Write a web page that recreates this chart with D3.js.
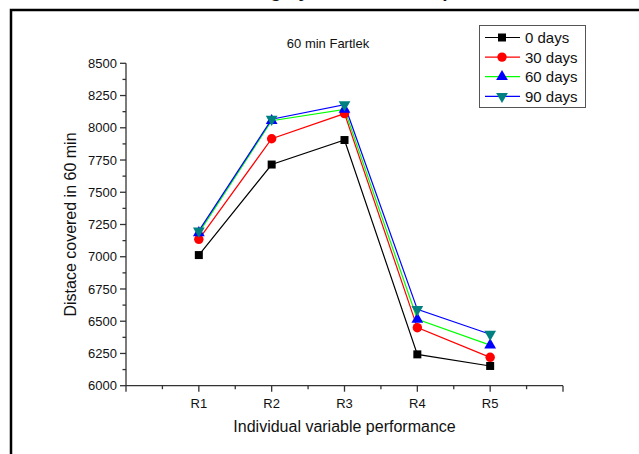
<!DOCTYPE html>
<html>
<head>
<meta charset="utf-8">
<script src="https://cdn.jsdelivr.net/npm/d3@7"></script>
<style>
  body { margin: 0; background: #fff; }
  svg { display: block; }
  text { font-family: "Liberation Sans", Arial, sans-serif; fill: #111; }
</style>
</head>
<body>
<div id="chart"></div>
<script>
// data
const categories = ["R1", "R2", "R3", "R4", "R5"];
const days0 = [7013, 7715, 7905, 6243, 6153];
const days30 = [7135, 7915, 8110, 6450, 6220];
const days60 = [7185, 8055, 8143, 6515, 6315];
const days90 = [7200, 8066, 8179, 6592, 6399];
const seriesNames = ["0 days", "30 days", "60 days", "90 days"];
const yTicks = [6000, 6250, 6500, 6750, 7000, 7250, 7500, 7750, 8000, 8250, 8500];

const W = 639, H = 454;
const svg = d3.select("#chart").append("svg")
  .attr("width", W).attr("height", H);

// outer frame, runs off the page right/bottom
svg.append("rect")
  .attr("x", 11).attr("y", 10)
  .attr("width", 700).attr("height", 500)
  .attr("fill", "none").attr("stroke", "#000").attr("stroke-width", 2.5);

// title, cut off above the page - only descenders show
svg.append("text")
  .attr("x", 118).attr("y", -3)
  .attr("font-size", 19).attr("font-weight", "bold")
  .text("Distance covering by 60 min fartlek performance in the study");

const x = d3.scaleLinear().domain([0, 6]).range([126, 563]);
const y = d3.scaleLinear().domain([6000, 8500]).range([385.7, 63.3]);

// y axis
const yAxis = svg.append("g").attr("transform", "translate(126,0)");
yAxis.append("line").attr("y1", y(6000)).attr("y2", y(8500)).attr("stroke", "#333").attr("stroke-width", 1.3);
yTicks.forEach(v => {
  yAxis.append("line").attr("x1", -6).attr("x2", 0).attr("y1", y(v)).attr("y2", y(v)).attr("stroke", "#333").attr("stroke-width", 1.3);
  yAxis.append("text").attr("x", -9).attr("y", y(v)).attr("dy", "0.35em")
    .attr("text-anchor", "end").attr("font-size", 13).text(v);
});
yTicks.slice(0, -1).forEach(v => {
  yAxis.append("line").attr("x1", -3.5).attr("x2", 0).attr("y1", y(v + 125)).attr("y2", y(v + 125)).attr("stroke", "#333").attr("stroke-width", 1.3);
});

// x axis
const xAxis = svg.append("g").attr("transform", "translate(0," + y(6000) + ")");
xAxis.append("line").attr("x1", x(0)).attr("x2", x(6)).attr("stroke", "#333").attr("stroke-width", 1.3);
d3.range(0, 7).forEach(i => {
  xAxis.append("line").attr("x1", x(i)).attr("x2", x(i)).attr("y1", 0).attr("y2", 6).attr("stroke", "#333").attr("stroke-width", 1.3);
});
d3.range(0.5, 6, 1).forEach(i => {
  xAxis.append("line").attr("x1", x(i)).attr("x2", x(i)).attr("y1", 0).attr("y2", 3.5).attr("stroke", "#333").attr("stroke-width", 1.3);
});
categories.forEach((c, i) => {
  xAxis.append("text").attr("x", x(i + 1)).attr("y", 22)
    .attr("text-anchor", "middle").attr("font-size", 13).text(c);
});

// axis titles
svg.append("text").attr("x", x(3)).attr("y", 432)
  .attr("text-anchor", "middle").attr("font-size", 16).text("Individual variable performance");
svg.append("text")
  .attr("transform", "translate(76," + y(7250) + ") rotate(-90)")
  .attr("text-anchor", "middle").attr("font-size", 16).text("Distace covered in 60 min");

svg.append("text").attr("x", 328).attr("y", 48)
  .attr("text-anchor", "middle").attr("font-size", 13).text("60 min Fartlek");

// series
const series = [
  { name: seriesNames[0], values: days0, line: "#000000", fill: "#000000", shape: d3.symbolSquare, size: 64 },
  { name: seriesNames[1], values: days30, line: "#ff0000", fill: "#ff0000", shape: d3.symbolCircle, size: 70 },
  { name: seriesNames[2], values: days60, line: "#00ff00", fill: "#0000ff", shape: d3.symbolTriangle, size: 60 },
  { name: seriesNames[3], values: days90, line: "#0000ff", fill: "#008080", shape: d3.symbolTriangle, size: 60, flip: true }
];

const line = d3.line().x((d, i) => x(i + 1)).y(d => y(d));

series.forEach(s => {
  svg.append("path").datum(s.values)
    .attr("d", line).attr("fill", "none").attr("stroke", s.line).attr("stroke-width", 1.2);
});
series.forEach(s => {
  svg.selectAll(null).data(s.values).enter().append("path")
    .attr("d", d3.symbol().type(s.shape).size(s.size))
    .attr("transform", (d, i) => "translate(" + x(i + 1) + "," + y(d) + ")" + (s.flip ? " rotate(180)" : ""))
    .attr("fill", s.fill);
});

// legend
const lg = svg.append("g");
lg.append("rect").attr("x", 479.5).attr("y", 25.5).attr("width", 106).attr("height", 82)
  .attr("fill", "#fff").attr("stroke", "#555").attr("stroke-width", 1);
series.forEach((s, i) => {
  const cy = 37.5 + i * 19.6;
  lg.append("line").attr("x1", 485).attr("x2", 520).attr("y1", cy).attr("y2", cy)
    .attr("stroke", s.line).attr("stroke-width", 1.2);
  lg.append("path").attr("d", d3.symbol().type(s.shape).size(s.size))
    .attr("transform", "translate(502," + cy + ")" + (s.flip ? " rotate(180)" : ""))
    .attr("fill", s.fill);
  lg.append("text").attr("x", 525).attr("y", cy).attr("dy", "0.36em")
    .attr("font-size", 15).text(s.name);
});
</script>
</body>
</html>
